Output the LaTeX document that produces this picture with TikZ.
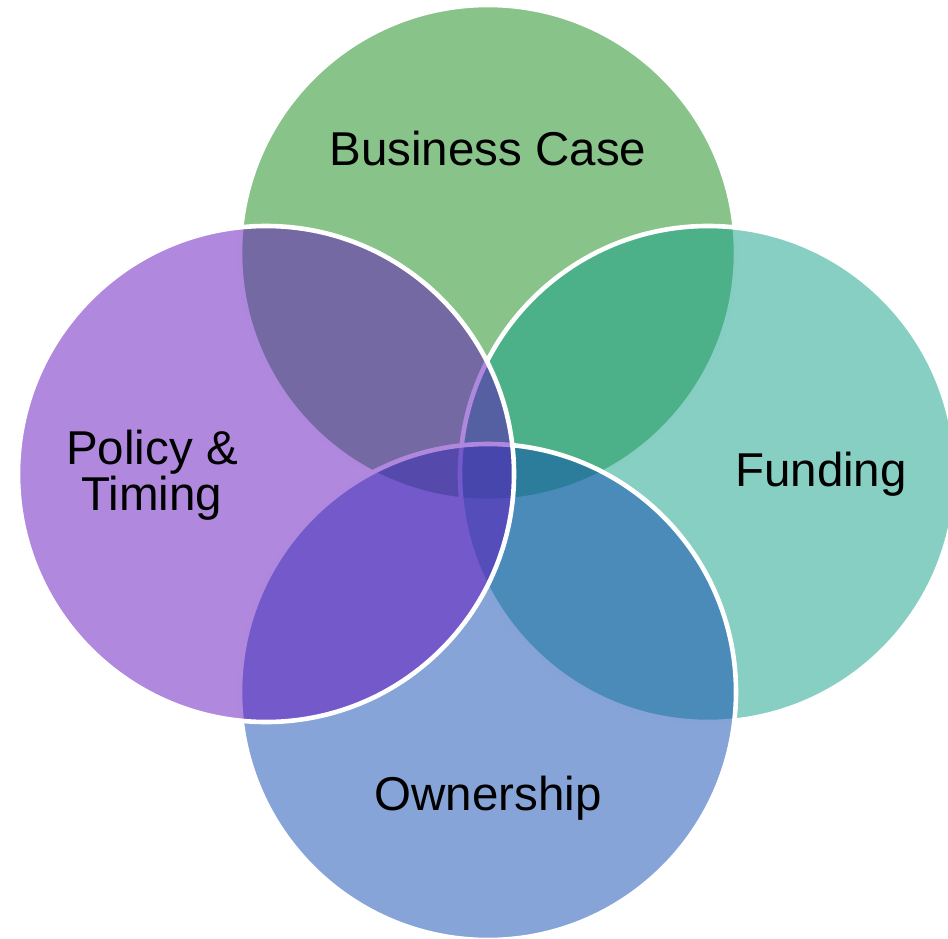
\documentclass[tikz,border=0pt]{standalone}
\usepackage{fontspec}
\setmainfont{Liberation Sans}
\usetikzlibrary{positioning}
\definecolor{casegreen}{RGB}{17,135,21}
\definecolor{fundteal}{RGB}{17,159,135}
\definecolor{ownblue}{RGB}{15,73,177}
\definecolor{policypurple}{RGB}{97,17,189}

\begin{document}
\begin{tikzpicture}[x=1pt,y=-1pt,
  venn/.style={draw=white, line width=4.6pt, circle, minimum size=496pt, inner sep=0pt, outer sep=0pt, fill opacity=0.5},
  setname/.style={font=\fontsize{47.5}{46}\selectfont, text=black, inner sep=0pt}]
        \useasboundingbox (0,0) rectangle (948,939);
        % the four sets, drawn top, right, bottom, left
        \node[venn, fill=casegreen] (case) at (488,253) {};
        \node[venn, fill=fundteal] (fund) at (708,474) {};
        \node[venn, fill=ownblue] (own) at (488,692) {};
        \node[venn, fill=policypurple] (policy) at (266,474) {};

        \node[setname, anchor=base] (casetext) at (488,166) {Business Case};
        \node[setname, anchor=base] (fundtext) at (821,486) {Funding};
        \node[setname, anchor=base] (owntext) at (488,810) {Ownership};
        \node[setname, anchor=north, align=center] (policytext) at (152,430) {Policy \&\\Timing};
\end{tikzpicture}
\end{document}
